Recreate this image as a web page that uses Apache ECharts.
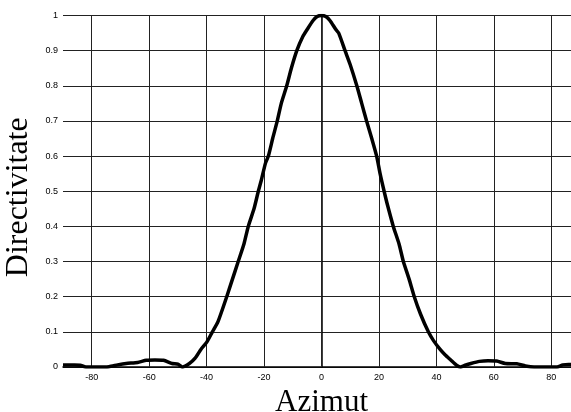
<!DOCTYPE html>
<html>
<head>
<meta charset="utf-8">
<script src="https://cdn.jsdelivr.net/npm/echarts@6/dist/echarts.min.js"></script>
<style>
  html, body { margin: 0; padding: 0; background: #fff; }
  #chart { width: 571px; height: 412px; }
</style>
</head>
<body>
<div id="chart"></div>
<script>
// azimut (grade) si directivitate
var azimut = [-90, -86, -84, -82, -78, -74, -71, -68, -64, -61, -58, -55, -52, -50, -48.5,
    -46, -44, -42, -40, -38, -36, -33, -31, -29, -27, -25.5, -23.5, -22, -21, -19.5,
    -18.5, -17, -15.4, -14, -12.1, -10.5, -8.6, -6.5, -5, -3, -1.5, 0, 1.5, 3, 5,
    6, 8.2, 10, 12.3, 14, 15.7, 17.5, 19.2, 20.4, 21.8, 23, 25, 27, 28.5, 30.5,
    32.3, 34.5, 37.2, 39, 41.3, 43, 45, 47, 48.3, 50, 52, 55, 58, 61, 64,
    68, 71, 74, 78, 82, 84, 86, 90];
var directivitate = [0.006, 0.006, 0.005, 0.0, 0.0, 0.001, 0.006, 0.01, 0.013, 0.019, 0.02, 0.019, 0.01, 0.008, 0.0,
    0.01, 0.025, 0.05, 0.07, 0.1, 0.13, 0.2, 0.25, 0.3, 0.35, 0.4, 0.45, 0.5, 0.53, 0.58,
    0.6, 0.65, 0.7, 0.75, 0.8, 0.85, 0.9, 0.94, 0.96, 0.985, 0.997, 1.0, 0.997, 0.985, 0.96,
    0.95, 0.9, 0.86, 0.8, 0.75, 0.7, 0.65, 0.6, 0.55, 0.5, 0.46, 0.4, 0.35, 0.3, 0.25,
    0.2, 0.15, 0.1, 0.075, 0.05, 0.035, 0.02, 0.005, 0.0, 0.005, 0.01, 0.016, 0.018, 0.017, 0.01,
    0.009, 0.003, 0.0, 0.0, 0.0, 0.006, 0.007, 0.007];
var xTicks = [-80, -60, -40, -20, 0, 20, 40, 60, 80];

var chart = echarts.init(document.getElementById('chart'));

var points = azimut.map(function (a, i) { return [a, directivitate[i]]; });

var option = {
    animation: false,
    backgroundColor: '#fff',
    grid: { left: 63, top: 15.5, right: -9, bottom: 45, outerBoundsMode: 'none', containLabel: false },
    xAxis: {
        type: 'value',
        min: -90,
        max: 90,
        interval: 10,
        name: 'Azimut',
        nameLocation: 'middle',
        nameGap: 16,
        nameTextStyle: { fontFamily: 'Liberation Serif', fontSize: 31, color: '#000', verticalAlign: 'top' },
        axisLine: { lineStyle: { color: '#000', width: 1.5 } },
        axisTick: { show: false },
        splitLine: { show: false },
        axisLabel: {
            fontFamily: 'Liberation Sans', fontSize: 9, color: '#000', margin: 6,
            formatter: function (v) { return xTicks.indexOf(v) >= 0 ? String(v) : ''; }
        }
    },
    yAxis: {
        type: 'value',
        min: 0,
        max: 1,
        interval: 0.1,
        name: 'Directivitate',
        nameLocation: 'middle',
        nameGap: 24,
        nameTextStyle: { fontFamily: 'Liberation Serif', fontSize: 32, color: '#000', padding: [0, 12, 0, 0] },
        axisLine: { show: true, lineStyle: { color: '#000', width: 1.5 } },
        axisTick: { show: false },
        splitLine: { lineStyle: { color: '#222', width: 1 } },
        axisLabel: {
            fontFamily: 'Liberation Sans', fontSize: 9, color: '#000', margin: 5,
            formatter: function (v) { return String(+v.toFixed(1)); }
        }
    },
    series: [{
        type: 'line',
        data: points,
        showSymbol: false,
        smooth: 0.2,
        lineStyle: { color: '#000', width: 3.5 },
        z: 5,
        markLine: {
            silent: true,
            symbol: 'none',
            label: { show: false },
            lineStyle: { color: '#222', width: 1, type: 'solid' },
            data: xTicks.map(function (v) { return { xAxis: v }; })
        }
    }]
};

chart.setOption(option);
</script>
</body>
</html>
